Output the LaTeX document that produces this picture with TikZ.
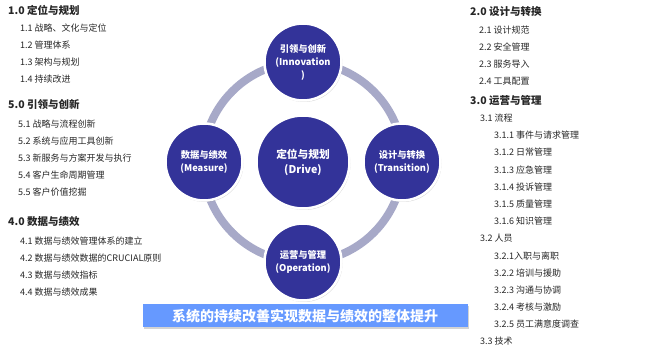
\documentclass[tikz,border=0pt]{standalone}
\usepackage{fontspec}
\setmainfont{Noto Sans CJK SC}
\usepackage{xcolor}
\usepackage{tikz}
\usetikzlibrary{shadows}

\definecolor{discblue}{RGB}{51,51,153}
\definecolor{ringgray}{RGB}{167,169,200}
\definecolor{bannerblue}{RGB}{102,153,255}
\definecolor{itemtext}{RGB}{38,38,38}

\begin{document}
\begin{tikzpicture}[x=1pt, y=-1pt,
  head/.style={anchor=west, font=\fontsize{10.5}{12}\selectfont\bfseries, text=itemtext, inner sep=0pt},
  item/.style={anchor=west, font=\fontsize{9}{10}\selectfont, text=itemtext, inner sep=0pt},
  disc/.style={circle, fill=discblue, draw=white, line width=2.5pt, minimum size=77pt, inner sep=0pt,
    text=white, align=center, font=\fontsize{9.3}{13}\selectfont\bfseries,
    drop shadow={opacity=0.3, shadow xshift=1pt, shadow yshift=-1.5pt}},
  ring/.style={draw=ringgray, line width=8pt}]
\useasboundingbox (0,0) rectangle (654,352);
% ring and discs
\coordinate (hub) at (303,162);
\draw[ring] (hub) circle[radius=100pt];
\node[disc, minimum size=93pt, font=\fontsize{10.7}{15}\selectfont\bfseries] (drive) at (hub) {定位与规划\\(Drive)};
\node[disc] (innov) at (303,62) {引领与创新\\(Innovation\\)};
\node[disc] (trans) at (402,162) {设计与转换\\(Transition)};
\node[disc] (oper) at (303,262) {运营与管理\\(Operation)};
\node[disc] (meas) at (204,162) {数据与绩效\\(Measure)};
% banner
\node[fill=bannerblue, minimum width=325pt, minimum height=23pt, inner sep=0pt, text=white,
  font=\fontsize{14}{16}\selectfont\bfseries,
  drop shadow={opacity=0.35, shadow xshift=1pt, shadow yshift=-1.5pt}] (banner) at (305,316)
  {系统的持续改善实现数据与绩效的整体提升};
% left column
\node[head] (h1) at (8,10) {1.0 定位与规划};
\node[item] (i11) at (20,28) {1.1 战略、文化与定位};
\node[item] (i12) at (20,45) {1.2 管理体系};
\node[item] (i13) at (20,62) {1.3 架构与规划};
\node[item] (i14) at (20,79) {1.4 持续改进};
\node[head] (h5) at (8,105) {5.0 引领与创新};
\node[item] (i51) at (18,124) {5.1 战略与流程创新};
\node[item] (i52) at (18,141) {5.2 系统与应用工具创新};
\node[item] (i53) at (18,158) {5.3 新服务与方案开发与执行};
\node[item] (i54) at (18,175) {5.4 客户生命周期管理};
\node[item] (i55) at (18,192) {5.5 客户价值挖掘};
\node[head] (h4) at (8,222) {4.0 数据与绩效};
\node[item] (i41) at (20,241) {4.1 数据与绩效管理体系的建立};
\node[item] (i42) at (20,258) {4.2 数据与绩效数据的CRUCIAL原则};
\node[item] (i43) at (20,275) {4.3 数据与绩效指标};
\node[item] (i44) at (20,292) {4.4 数据与绩效成果};
% right column
\node[head] (h2) at (470,12) {2.0 设计与转换};
\node[item] (i21) at (479,30) {2.1 设计规范};
\node[item] (i22) at (479,47) {2.2 安全管理};
\node[item] (i23) at (479,64) {2.3 服务导入};
\node[item] (i24) at (479,81) {2.4 工具配置};
\node[head] (h3) at (470,101) {3.0 运营与管理};
\node[item] (i31) at (480,118) {3.1 流程};
\node[item] (i311) at (494,135) {3.1.1 事件与请求管理};
\node[item] (i312) at (494,152) {3.1.2 日常管理};
\node[item] (i313) at (494,170) {3.1.3 应急管理};
\node[item] (i314) at (494,187) {3.1.4 投诉管理};
\node[item] (i315) at (494,204) {3.1.5 质量管理};
\node[item] (i316) at (494,221) {3.1.6 知识管理};
\node[item] (i32) at (480,238) {3.2 人员};
\node[item] (i321) at (494,256) {3.2.1入职与离职};
\node[item] (i322) at (494,273) {3.2.2 培训与援助};
\node[item] (i323) at (494,290) {3.2.3 沟通与协调};
\node[item] (i324) at (494,307) {3.2.4 考核与激励};
\node[item] (i325) at (494,324) {3.2.5 员工满意度调查};
\node[item] (i33) at (480,341) {3.3 技术};
\end{tikzpicture}
\end{document}
